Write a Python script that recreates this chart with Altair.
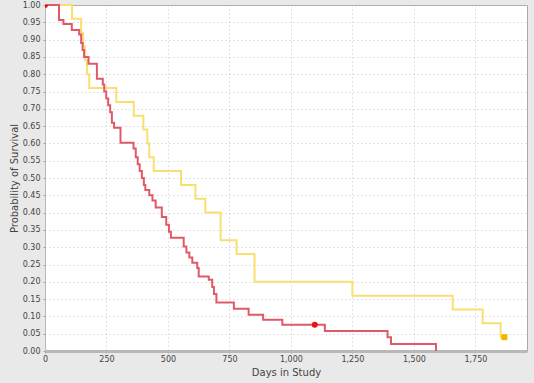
import altair as alt
import pandas as pd

# Kaplan-Meier curves
red_days = [0, 57, 75, 109, 139, 147, 153, 159, 177, 211, 235, 241, 249, 257, 265,
            272, 281, 307, 360, 369, 377, 385, 394, 402, 408, 424, 437, 450, 475, 493,
            504, 512, 564, 575, 587, 599, 619, 625, 666, 680, 687, 697, 768, 828, 887,
            965, 1138, 1393, 1407, 1590]
red_surv = [1.0, 0.957, 0.945, 0.928, 0.915, 0.89, 0.87, 0.85, 0.83, 0.787, 0.77, 0.75,
            0.73, 0.71, 0.69, 0.66, 0.645, 0.602, 0.585, 0.56, 0.54, 0.52, 0.50, 0.48,
            0.465, 0.45, 0.435, 0.415, 0.387, 0.365, 0.345, 0.327, 0.302, 0.285, 0.27,
            0.255, 0.24, 0.215, 0.206, 0.185, 0.165, 0.14, 0.122, 0.105, 0.09, 0.076,
            0.058, 0.04, 0.02, 0.0]

yel_days = [0, 110, 147, 155, 163, 171, 180, 290, 361, 400, 416, 424, 442, 553, 612,
            652, 714, 779, 852, 1250, 1658, 1780, 1853, 1868]
yel_surv = [1.0, 0.96, 0.92, 0.88, 0.84, 0.80, 0.76, 0.72, 0.68, 0.64, 0.60, 0.56, 0.52,
            0.48, 0.44, 0.40, 0.32, 0.28, 0.20, 0.16, 0.12, 0.08, 0.04, 0.04]

red_cens_days = [0, 1097]
red_cens_surv = [1.0, 0.076]
yel_cens_days = [1868]
yel_cens_surv = [0.04]

x_ticks = [0, 250, 500, 750, 1000, 1250, 1500, 1750]
y_ticks = [round(i * 0.05, 2) for i in range(21)]

red_df = pd.DataFrame({"day": red_days, "surv": red_surv})
yel_df = pd.DataFrame({"day": yel_days, "surv": yel_surv})
red_c = pd.DataFrame({"day": red_cens_days, "surv": red_cens_surv})
yel_c = pd.DataFrame({"day": yel_cens_days, "surv": yel_cens_surv})

x_scale = alt.Scale(domain=[0, 1960], nice=False, zero=False)
y_scale = alt.Scale(domain=[0, 1], nice=False)

x_enc = alt.X("day:Q", scale=x_scale,
              axis=alt.Axis(title="Days in Study", values=x_ticks, format=",.0f",
                            labelFlush=False))
y_enc = alt.Y("surv:Q", scale=y_scale,
              axis=alt.Axis(title="Probability of Survival", values=y_ticks,
                            format=".2f"))

yel_line = alt.Chart(yel_df).mark_line(interpolate="step-after", strokeWidth=2,
                                       color="#f8e070").encode(x=x_enc, y=y_enc)
red_line = alt.Chart(red_df).mark_line(interpolate="step-after", strokeWidth=2,
                                       color="#df5a68").encode(x=x_enc, y=y_enc)
red_pts = alt.Chart(red_c).mark_point(filled=True, shape="circle", size=36,
                                      color="#ee1111", opacity=1,
                                      clip=True).encode(x=x_enc, y=y_enc)
yel_pts = alt.Chart(yel_c).mark_point(filled=True, shape="square", size=36,
                                      color="#f2b600", opacity=1).encode(x=x_enc, y=y_enc)

chart = alt.layer(yel_line, red_line, red_pts, yel_pts).properties(
    width=482, height=346,
    autosize=alt.AutoSizeParams(type="none"),
    padding={"left": 45, "top": 5, "right": 7, "bottom": 32},
    background="#e9e9e9",
).configure_view(
    fill="white", stroke="#a8a8a8", strokeWidth=1
).configure_axis(
    labelFont="DejaVu Sans", labelFontSize=8, labelColor="#444444",
    titleFont="DejaVu Sans", titleFontSize=10, titleFontWeight="normal",
    titleColor="#444444",
    gridColor="#c4c4c4", gridDash=[1, 3], gridWidth=1,
    tickSize=2, tickColor="#a0a0a0",
    domainColor="#b8b8b8",
).configure_axisX(
    domainWidth=3, labelPadding=2, titlePadding=4
).configure_axisY(
    domainWidth=1, labelPadding=3, titlePadding=3
)

chart.save("out.html", embed_options={"renderer": "svg", "actions": False})
